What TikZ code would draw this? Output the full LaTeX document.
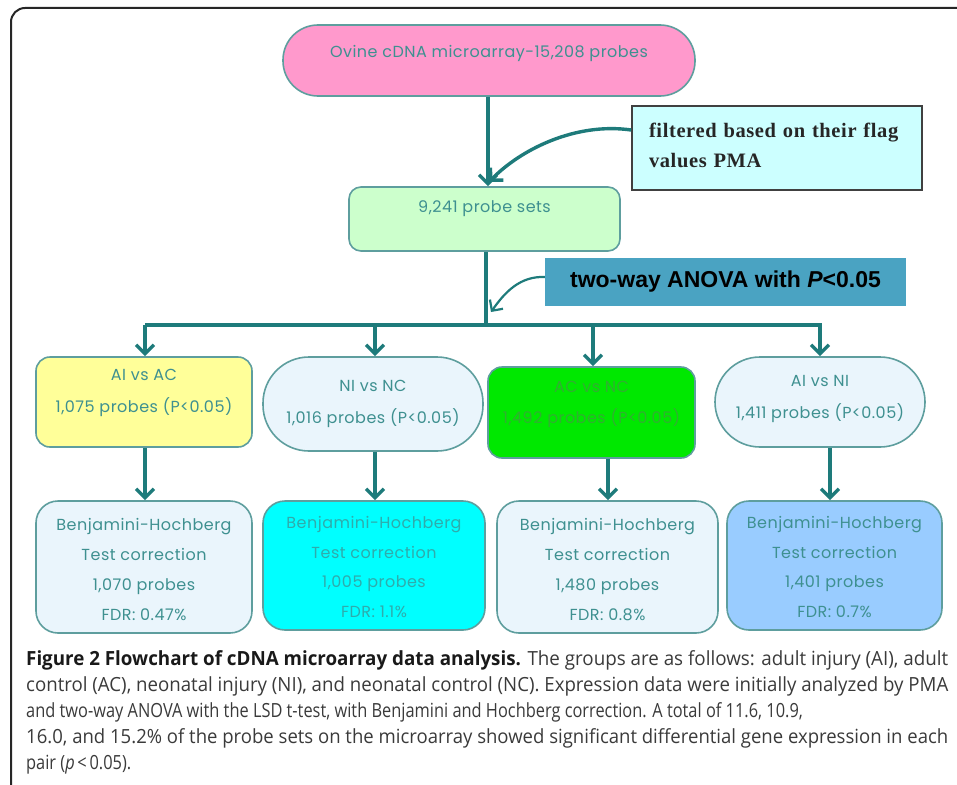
\documentclass[tikz,border=0pt]{standalone}
\usepackage{fontspec}
\setmainfont[LetterSpace=3]{Poppins}
\newfontfamily\anovafont{Liberation Sans}
\newfontfamily\noteFont[LetterSpace=3]{Liberation Serif}
\newfontfamily\capfont{Open Sans}
\usetikzlibrary{arrows.meta}
\definecolor{conn}{HTML}{1E7B7B}
\definecolor{edge}{HTML}{5E9E9E}
\definecolor{tx}{HTML}{3E9090}
\definecolor{pinkf}{HTML}{FF99CC}
\definecolor{greenf}{HTML}{CCFFCC}
\definecolor{notef}{HTML}{CCFFFF}
\definecolor{anovaf}{HTML}{4AA3C2}
\definecolor{yellowf}{HTML}{FFFF99}
\definecolor{lightf}{HTML}{EAF5FC}
\definecolor{brightg}{HTML}{00E800}
\definecolor{acnctx}{HTML}{30B030}
\definecolor{cyanf}{HTML}{00FFFF}
\definecolor{bluef}{HTML}{99CCFF}
\definecolor{captxt}{HTML}{3A3A3A}
\newcommand{\shifted}[2]{\raisebox{#1}[0pt][0pt]{#2}}
\newcommand{\twol}[2]{\begin{tabular}{@{}c@{}}#1\\[10.8pt]#2\end{tabular}}
\newcommand{\fourl}[4]{\begin{tabular}{@{}c@{}}#1\\[10.5pt]#2\\[10.5pt]#3\\[10.5pt]#4\end{tabular}}
\newcommand{\capline}[1]{\resizebox{922pt}{\height}{#1}}
\newcommand{\capfree}[1]{\scalebox{0.84}[1]{#1}}
\tikzset{
  box/.style={draw=edge, line width=1.6pt, text=tx, inner sep=0pt,
    font=\fontsize{16}{19.2}\selectfont},
  conn/.style={draw=conn, line width=3.4pt, -{Straight Barb[length=9pt,width=18pt]}},
  plain/.style={draw=conn, line width=3.4pt},
}
\begin{document}
\begin{tikzpicture}[x=1pt,y=-1pt]
\useasboundingbox (0,0) rectangle (957,784);
\clip (0,0) rectangle (957,784);
% outer frame
\draw[line width=2pt, draw=black!85, rounded corners=14pt] (11,800) -- (11,8) -- (990,8);

% nodes
\node[box, fill=pinkf, rounded corners=35pt, minimum width=412pt, minimum height=71pt] (top) at (489,60.5)
  {\shifted{3pt}{Ovine cDNA microarray-15,208 probes}};
\node[draw=black!75, line width=1.6pt, fill=notef, minimum width=290pt, minimum height=84pt,
  inner sep=0pt, text width=256pt, align=left,
  font=\noteFont\bfseries\fontsize{20.5}{30}\selectfont, text=black!85] (note) at (777,148)
  {\shifted{-4pt}{\begin{tabular}{@{}l@{}}filtered based on their flag\\values PMA\end{tabular}}};
\node[box, fill=greenf, rounded corners=12pt, minimum width=271pt, minimum height=64pt] (sets) at (484.5,219)
  {\shifted{7pt}{9,241 probe sets}};
\node[fill=anovaf, minimum width=361pt, minimum height=48pt, inner sep=0pt,
  font=\anovafont\bfseries\fontsize{23}{27}\selectfont, text=black] (anova) at (725.5,282)
  {two-way ANOVA with \textit{P}<0.05};

% row 1
\node[box, fill=yellowf, rounded corners=14pt, minimum width=216pt, minimum height=90pt] (aiac) at (144,402)
  {\shifted{5pt}{\twol{AI vs AC}{1,075 probes (P<0.05)}}};
\node[box, fill=lightf, rounded corners=46pt, minimum width=220pt, minimum height=94pt] (ninc) at (373,404)
  {\shifted{-4pt}{\twol{NI vs NC}{1,016 probes (P<0.05)}}};
\node[box, fill=brightg, rounded corners=14pt, minimum width=207pt, minimum height=91pt, text=acnctx] (acnc) at (591.5,412.5)
  {\shifted{4pt}{\twol{AC vs NC}{1,492 probes (P<0.05)}}};
\node[box, fill=lightf, rounded corners=45pt, minimum width=210pt, minimum height=90pt] (aini) at (820,402)
  {\shifted{-1pt}{\twol{AI vs NI}{1,411 probes (P<0.05)}}};

% row 2
\node[box, fill=lightf, rounded corners=22pt, minimum width=216pt, minimum height=132pt] (bha) at (144,567)
  {\shifted{-9pt}{\fourl{Benjamini-Hochberg}{Test correction}{1,070 probes}{FDR: 0.47\%}}};
\node[box, fill=cyanf, rounded corners=22pt, minimum width=222pt, minimum height=129pt, text=tx!75!cyanf] (bhb) at (374,565.5)
  {\shifted{-8pt}{\fourl{Benjamini-Hochberg}{Test correction}{1,005 probes}{FDR: 1.1\%}}};
\node[box, fill=lightf, rounded corners=22pt, minimum width=221pt, minimum height=132pt] (bhc) at (607.5,567)
  {\shifted{-9pt}{\fourl{Benjamini-Hochberg}{Test correction}{1,480 probes}{FDR: 0.8\%}}};
\node[box, fill=bluef, rounded corners=22pt, minimum width=215pt, minimum height=129pt] (bhd) at (834.5,565.5)
  {\shifted{-8pt}{\fourl{Benjamini-Hochberg}{Test correction}{1,401 probes}{FDR: 0.7\%}}};

% connectors
\coordinate (split) at (486,325);
\draw[conn] (top.south -| 488,0) -- (sets.north -| 488,0);
\draw[conn] (note.west |- 0,130) .. controls (575,122) and (520,150) .. (489,182);
\draw[plain] (sets.south -| split) -- (split);
\draw[plain] (145,325) -- (822,325);
\draw[conn] (145,325) -- (aiac.north -| 145,0);
\draw[conn] (375,325) -- (ninc.north -| 375,0);
\draw[conn] (593,325) -- (acnc.north -| 593,0);
\draw[conn] (820,325) -- (aini.north -| 820,0);
\draw[draw=conn, line width=2.2pt, -{Straight Barb[length=8pt,width=16pt]}] (anova.west |- 0,277) .. controls (520,276) and (505,292) .. (491,312);
\draw[conn] (aiac.south -| 145,0) -- (bha.north -| 145,0);
\draw[conn] (ninc.south -| 375,0) -- (bhb.north -| 375,0);
\draw[conn] (acnc.south -| 608,0) -- (bhc.north -| 608,0);
\draw[conn] (aini.south -| 830,0) -- (bhd.north -| 830,0);

% caption
\node[anchor=north west, inner sep=0pt, align=left, text=captxt,
  font=\capfont\fontsize{19.5}{26}\selectfont] (cap) at (26,650)
  {\capline{\textbf{\color{black!90}Figure 2 Flowchart of cDNA microarray data analysis.} The groups are as follows: adult injury (AI), adult}\\
   \capline{control (AC), neonatal injury (NI), and neonatal control (NC). Expression data were initially analyzed by PMA}\\
   \capfree{and two-way ANOVA with the LSD t-test, with Benjamini and Hochberg correction. A total of 11.6, 10.9,}\\
   \capline{16.0, and 15.2\% of the probe sets on the microarray showed significant differential gene expression in each}\\
   \capfree{pair (\textit{p}\,<\,0.05).}};
\end{tikzpicture}
\end{document}
